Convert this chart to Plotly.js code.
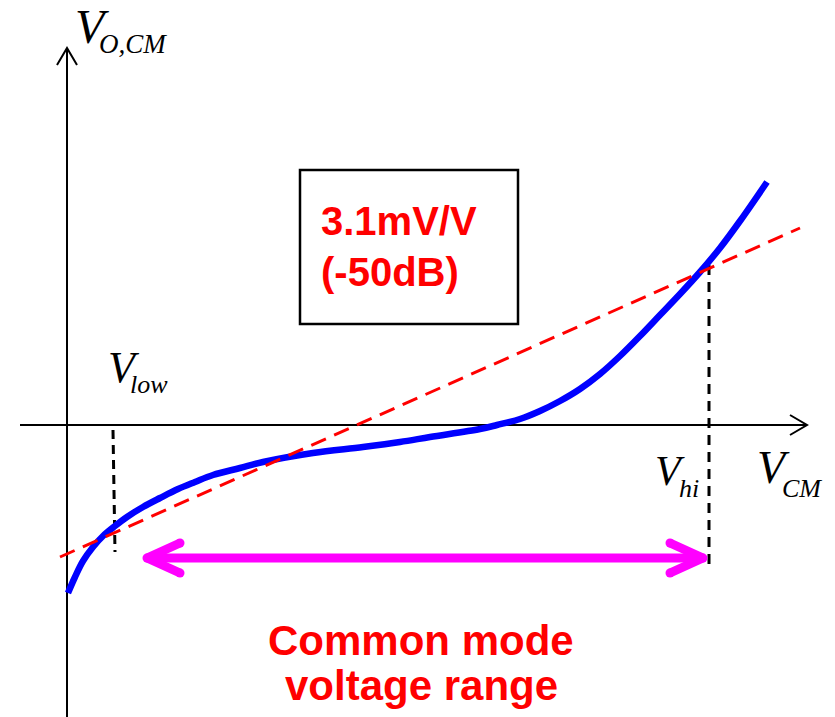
<!DOCTYPE html>
<html>
<head>
<meta charset="utf-8">
<script src="https://cdn.plot.ly/plotly-3.0.1.min.js"></script>
<style>html,body{margin:0;padding:0;background:#fff;}#chart{width:835px;height:717px;}</style>
</head>
<body>
<div id="chart"></div>
<script>
// Output common-mode voltage vs input common-mode voltage (schematic units, origin at axis crossing)
const curveVcm = [1, 8, 16, 26, 36, 48, 60, 76, 93, 111, 128, 146, 173, 196, 246, 296, 333, 363, 413, 430, 453, 473, 493, 513, 533, 553, 573, 593, 613, 633, 653, 673, 700];
const curveVocm = [-168, -152, -136, -122, -111, -101, -92, -82, -73, -64, -57, -50, -43, -37, -28, -22, -17, -12, -4, 0, 6, 14, 24, 36, 51, 69, 89, 110, 131, 153, 177, 204, 243];

// Linear fit (3.1 mV/V) line
const fitVcm = [-7, 733];
const fitVocm = [-132, 197];

// Vlow / Vhi markers
const vlowX = [46, 48];
const vlowY = [-5, -127];
const vhiX = [642, 642];
const vhiY = [160, -142];

// Axes
const yAxisX = [0, 0];
const yAxisY = [-292, 377];
const yArrowX = [-10, 0, 10];
const yArrowY = [360, 377, 360];
const xAxisX = [-47, 740];
const xAxisY = [0, 0];
const xArrowX = [723, 740, 723];
const xArrowY = [10, 0, -10];

// Common mode voltage range arrow
const rangeX = [80, 636];
const rangeY = [-133, -133];
const leftHeadX = [113, 80, 113];
const leftHeadY = [-118, -133, -148];
const rightHeadX = [603, 636, 603];
const rightHeadY = [-118, -133, -148];

const black = '#000000';
const traces = [
  {x: yAxisX, y: yAxisY, mode: 'lines', line: {color: black, width: 2}},
  {x: yArrowX, y: yArrowY, mode: 'lines', line: {color: black, width: 2}},
  {x: xAxisX, y: xAxisY, mode: 'lines', line: {color: black, width: 2}},
  {x: xArrowX, y: xArrowY, mode: 'lines', line: {color: black, width: 2}},
  {x: vlowX, y: vlowY, mode: 'lines', line: {color: black, width: 3, dash: '9px,6px'}},
  {x: vhiX, y: vhiY, mode: 'lines', line: {color: black, width: 3, dash: '10px,7px'}},
  {x: curveVcm, y: curveVocm, mode: 'lines', line: {color: '#0000FF', width: 6.5, shape: 'spline', smoothing: 1}},
  {x: fitVcm, y: fitVocm, mode: 'lines', line: {color: '#FF0000', width: 3, dash: '16px,9px'}},
  {x: rangeX, y: rangeY, mode: 'lines', line: {color: '#FF00FF', width: 9}},
  {x: leftHeadX, y: leftHeadY, mode: 'lines+markers', line: {color: '#FF00FF', width: 9}, marker: {color: '#FF00FF', size: 9}},
  {x: rightHeadX, y: rightHeadY, mode: 'lines+markers', line: {color: '#FF00FF', width: 9}, marker: {color: '#FF00FF', size: 9}}
];

const serif = 'Liberation Serif, Times New Roman, serif';
const sans = 'Liberation Sans, Arial, sans-serif';
function px(xp, yp) { return {x: xp - 67, y: 425 - yp}; }
function ann(xp, yp, text, size, family, color, xanchor, opts) {
  const p = px(xp, yp);
  return Object.assign({x: p.x, y: p.y, xref: 'x', yref: 'y', text: text, showarrow: false,
    xanchor: xanchor || 'center', yanchor: 'middle',
    font: {family: family, size: size, color: color}}, opts || {});
}
const annotations = [
  ann(92, 26, '<i>V</i>', 48, serif, black),
  ann(97, 43.5, '<i>O,CM</i>', 27, serif, black, 'left'),
  ann(124, 367, '<i>V</i>', 44, serif, black),
  ann(149, 384, '<i>low</i>', 26, serif, black),
  ann(670, 471, '<i>V</i>', 42, serif, black),
  ann(689, 488, '<i>hi</i>', 26, serif, black),
  ann(773, 467, '<i>V</i>', 46, serif, black),
  ann(802, 488, '<i>CM</i>', 26, serif, black),
  ann(319, 221, '<b>3.1mV/V</b>', 40, sans, '#FF0000', 'left'),
  ann(319, 272, '<b>(-50dB)</b>', 40, sans, '#FF0000', 'left'),
  ann(421, 640, '<b>Common mode</b>', 42, sans, '#FF0000'),
  ann(421, 685, '<b>voltage range</b>', 42, sans, '#FF0000')
];

const box0 = px(300, 170), box1 = px(518, 324);
const layout = {
  width: 835, height: 717,
  margin: {l: 0, r: 0, t: 0, b: 0, pad: 0},
  paper_bgcolor: '#ffffff', plot_bgcolor: '#ffffff',
  showlegend: false,
  xaxis: {range: [-67, 768], visible: false, fixedrange: true},
  yaxis: {range: [-292, 425], visible: false, fixedrange: true},
  shapes: [{type: 'rect', xref: 'x', yref: 'y', x0: box0.x, y0: box0.y, x1: box1.x, y1: box1.y,
    line: {color: black, width: 2.5}, fillcolor: 'rgba(0,0,0,0)'}],
  annotations: annotations
};
Plotly.newPlot('chart', traces, layout, {displayModeBar: false, staticPlot: true});
</script>
</body>
</html>
